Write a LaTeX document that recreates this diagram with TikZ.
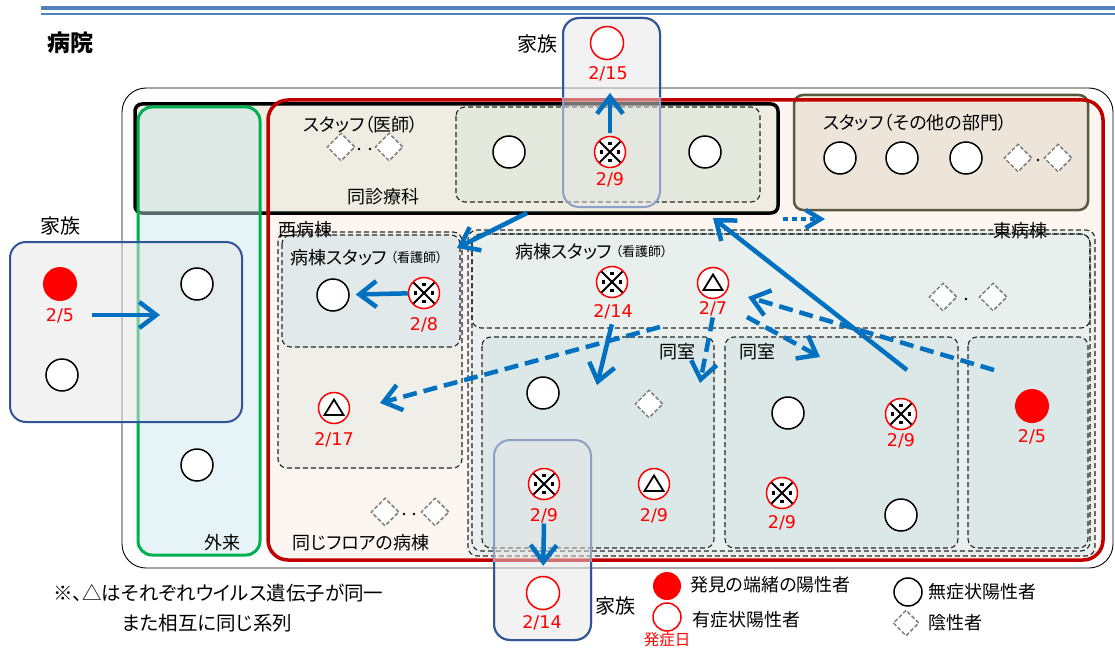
\documentclass[tikz,border=0pt]{standalone}
\usepackage{fontspec}
\setmainfont{Noto Sans CJK JP}[RawFeature=+palt]
\newfontfamily\numfont{DejaVu Sans}
\usetikzlibrary{shapes.geometric,arrows.meta}

\definecolor{titleblue}{RGB}{79,129,189}
\definecolor{arrblue}{RGB}{0,112,192}
\definecolor{famblue}{RGB}{47,85,151}
\definecolor{wardred}{RGB}{192,0,0}
\definecolor{gairai}{RGB}{0,176,80}
\definecolor{gairaifill}{RGB}{200,232,238}
\definecolor{wardfill}{RGB}{253,245,239}
\definecolor{clinicfill}{RGB}{239,237,225}
\definecolor{docfill}{RGB}{227,233,220}
\definecolor{otherfill}{RGB}{237,229,217}
\definecolor{otherline}{RGB}{89,89,64}
\definecolor{westfill}{RGB}{239,238,233}
\definecolor{weststafffill}{RGB}{225,233,234}
\definecolor{eastfill}{RGB}{232,239,236}
\definecolor{roomfill}{RGB}{220,231,232}

\tikzset{%
        asym/.style={
                circle, draw, fill=white, line width=1.5pt,
                minimum size=32pt, inner sep=0pt
            },
        index/.style={
                circle, fill=red, minimum size=34pt, inner sep=0pt
            },
        symp/.style={
                circle, draw=red, fill=white, line width=1.5pt,
                minimum size=33pt, inner sep=0pt
            },
        kome/.style={
                symp, minimum size=31pt,
                path picture={
                    \draw[black, line width=2pt, line cap=butt]
                        ([shift={(-12pt,12pt)}]path picture bounding box.center) -- ([shift={(12pt,-12pt)}]path picture bounding box.center)
                        ([shift={(12pt,12pt)}]path picture bounding box.center) -- ([shift={(-12pt,-12pt)}]path picture bounding box.center);
                    \foreach \dx/\dy in {0/8.5,0/-8.5,8.5/0,-8.5/0}
                        \fill[black] ([shift={(\dx pt,\dy pt)}]path picture bounding box.center)
                            ++(-1.8pt,-1.8pt) rectangle ++(3.6pt,3.6pt);
                }
            },
        tri/.style={
                symp, minimum size=31pt,
                path picture={
                    \draw[black, line width=1.8pt, line join=miter]
                        ([shift={(0pt,8.5pt)}]path picture bounding box.center)
                        -- ([shift={(-9.5pt,-7pt)}]path picture bounding box.center)
                        -- ([shift={(9.5pt,-7pt)}]path picture bounding box.center) -- cycle;
                }
            },
        neg/.style={
                diamond, draw=black!50, fill=white, line width=1.5pt,
                dash pattern=on 4pt off 2pt, minimum size=28pt, inner sep=0pt
            },
        date/.style={
                text=red, font=\numfont\fontsize{17.5}{17.5}\selectfont, inner sep=0pt
            },
        jtext/.style={
                font=\fontsize{18}{18}\selectfont, inner sep=0pt
            },
        smalltext/.style={
                font=\fontsize{13}{13}\selectfont, inner sep=0pt
            },
        ellip/.style={
                fill=black, circle, minimum size=2.6pt, inner sep=0pt
            },
        area/.style={
                draw=black!85, line width=1.1pt, dash pattern=on 5pt off 3pt,
                rounded corners=9pt
            },
        fambox/.style={
                fill=black!10, fill opacity=0.5, rounded corners=16pt, line width=2pt
            },
        arr/.style={
                draw=arrblue, line width=4.5pt,
                -{Straight Barb[length=17pt, width=26pt]}
            },
        dasharr/.style={
                arr, dash pattern=on 14pt off 7pt
            },
        dotarr/.style={
                arr, dash pattern=on 5pt off 4pt,
                -{Straight Barb[length=15pt, width=18pt]}
            }
    }

\begin{document}
\begin{tikzpicture}[x=1pt, y=-1pt]
    \useasboundingbox (0,0) rectangle (1115,650);

    % title:
        \draw[titleblue, line width=3.5pt] (41,8) -- (1115,8);
        \draw[titleblue, line width=1.2pt] (41,14) -- (1115,14);
        \node[font=\bfseries\fontsize{23}{23}\selectfont] (hosp) at (70,43) {病院};

    % hospital and its parts:
        \draw[line width=0.9pt, fill=white, rounded corners=24pt] (122,88) rectangle (1113,568);
        \fill[wardfill, rounded corners=20pt] (268,100) rectangle (1103,560);
        \draw[fill=clinicfill, line width=3.5pt, rounded corners=7pt] (135,104) rectangle (778,213);
        \draw[area, fill=docfill] (456,107) rectangle (760,202);
        \draw[draw=otherline, fill=otherfill, line width=2.5pt, rounded corners=9pt] (794,95) rectangle (1088,210);
        \draw[wardred, line width=3.5pt, rounded corners=20pt] (268,100) rectangle (1103,560);

        \draw[area, fill=westfill] (278,232) rectangle (462,468);
        \draw[area, fill=weststafffill] (282,235) rectangle (460,347);
        \draw[area, fill=eastfill] (468,230) rectangle (1095,556);
        \draw[area] (472,234) rectangle (1090,551);
        \draw[area] (472,234) rectangle (1090,328);
        \draw[area, fill=roomfill] (482,337) rectangle (714,548);
        \draw[area, fill=roomfill] (725,337) rectangle (958,548);
        \draw[area, fill=roomfill] (968,337) rectangle (1088,548);

        \draw[gairai, line width=3pt, fill=gairaifill, fill opacity=0.45, rounded corners=14pt]
            (138,107) rectangle (260,555);

    % families:
        \draw[fambox, draw=famblue] (10,242) rectangle (242,422);
        \draw[fambox, draw=famblue!55] (563,18) rectangle (660,207);
        \draw[fambox, draw=famblue!55] (494,440) rectangle (591,640);
        \begin{scope}
            \clip (500,0) rectangle (700,97);
            \draw[famblue, line width=2pt, rounded corners=16pt] (563,18) rectangle (660,207);
        \end{scope}
        \begin{scope}
            \clip (480,562) rectangle (620,650);
            \draw[famblue, line width=2pt, rounded corners=16pt] (494,440) rectangle (591,640);
        \end{scope}

    % texts:
        \node[jtext] (t-doc) at (361,125) {スタッフ（医師）};
        \node[jtext] (t-clinic) at (383,197) {同診療科};
        \node[jtext] (t-other) at (915,123) {スタッフ（その他の部門）};
        \node[jtext, anchor=west] (t-west) at (278,230) {西病棟};
        \node[jtext, anchor=west] (t-wstaff) at (290,258) {病棟スタッフ};
        \node[smalltext, anchor=west] (t-wnurse) at ([xshift=3pt]t-wstaff.east) {（看護師）};
        \node[jtext] (t-east) at (1020,231) {東病棟};
        \node[jtext, anchor=west] (t-estaff) at (515,252) {病棟スタッフ};
        \node[smalltext, anchor=west] (t-enurse) at ([xshift=3pt]t-estaff.east) {（看護師）};
        \node[jtext] (t-room1) at (677,352) {同室};
        \node[jtext] (t-room2) at (757,352) {同室};
        \node[jtext] (t-floor) at (361,543) {同じフロアの病棟};
        \node[jtext] (t-gairai) at (222,543) {外来};
        \node[jtext, font=\fontsize{20}{20}\selectfont] (t-fam1) at (60,226) {家族};
        \node[jtext, font=\fontsize{20}{20}\selectfont] (t-fam2) at (537,44) {家族};
        \node[jtext, font=\fontsize{20}{20}\selectfont] (t-fam3) at (615,606) {家族};

    % same department:
        \node[neg] (dr1) at (341,147) {};
        \node[neg] (dr2) at (389,147) {};
        \node[ellip] at (359,149) {};
        \node[ellip] at (370,149) {};
        \node[asym] (dc1) at (509,152) {};
        \node[kome] (dc2) at (610,152) {};
        \node[date] (ddc2) at (610,180) {2/9};
        \node[asym] (dc3) at (705,152) {};

    % other departments:
        \node[asym] (o1) at (840,158) {};
        \node[asym] (o2) at (902,158) {};
        \node[asym] (o3) at (966,158) {};
        \node[neg] (o4) at (1018,158) {};
        \node[neg] (o5) at (1058,158) {};
        \node[ellip] at (1038,160) {};

    % families:
        \node[symp] (ft) at (607,43) {};
        \node[date] (dft) at (608,74) {2/15};
        \node[index] (fl1) at (60,284) {};
        \node[date] (dfl1) at (60,316) {2/5};
        \node[asym] (fl2) at (62,375) {};
        \node[symp] (fb) at (543,593) {};
        \node[date] (dfb) at (542,623) {2/14};

    % outpatient:
        \node[asym] (g1) at (197,284) {};
        \node[asym] (g2) at (197,465) {};

    % west ward:
        \node[asym] (w1) at (333,295) {};
        \node[kome] (w2) at (424,293) {};
        \node[date] (dw2) at (424,325) {2/8};
        \node[tri] (w3) at (334,408) {};
        \node[date] (dw3) at (334,440) {2/17};
        \node[neg] (w4) at (385,512) {};
        \node[neg] (w5) at (435,512) {};
        \node[ellip] at (404,514) {};
        \node[ellip] at (414,514) {};

    % east ward staff:
        \node[kome] (e1) at (612,282) {};
        \node[date] (de1) at (613,312) {2/14};
        \node[tri] (e2) at (713,283) {};
        \node[date] (de2) at (713,309) {2/7};
        \node[neg] (e3) at (943,297) {};
        \node[neg] (e4) at (993,297) {};
        \node[ellip] at (966,299) {};

    % rooms:
        \node[asym] (r1a) at (543,393) {};
        \node[neg] (r1b) at (649,404) {};
        \node[kome] (r1c) at (544,484) {};
        \node[date] (dr1c) at (544,516) {2/9};
        \node[tri] (r1d) at (654,484) {};
        \node[date] (dr1d) at (654,516) {2/9};
        \node[asym] (r2a) at (788,413) {};
        \node[kome] (r2b) at (901,414) {};
        \node[date] (dr2b) at (901,441) {2/9};
        \node[kome] (r2c) at (782,493) {};
        \node[date] (dr2c) at (782,523) {2/9};
        \node[asym] (r2d) at (901,515) {};
        \node[index] (r3a) at (1032,406) {};
        \node[date] (dr3a) at (1032,437) {2/5};

    % arrows:
        \coordinate (top-in) at (610,93);
        \coordinate (cl-out) at (527,213);
        \coordinate (ws-in) at (457,248);
        \coordinate (dot-s) at (783,219);
        \coordinate (dot-t) at (825,219);
        \coordinate (r2-out) at (907,370);
        \coordinate (cl-in) at (713,218);
        \coordinate (r3-out) at (994,370);
        \coordinate (e2-in) at (748,297);
        \coordinate (e2-out) at (747,317);
        \coordinate (r2-in) at (820,357);
        \coordinate (r1-in) at (700,383);
        \coordinate (r1-in2) at (597,385);
        \coordinate (e-out) at (660,327);
        \coordinate (w3-in) at (380,403);
        \coordinate (fl-out) at (92,315);
        \coordinate (g-in) at (160,315);

        \draw[arr, shorten <=3pt] (dc2.north) -- (top-in);
        \draw[arr] (cl-out) -- (ws-in);
        \draw[dotarr] (dot-s) -- (dot-t);
        \draw[arr] (r2-out) -- (cl-in);
        \draw[dasharr] (r3-out) -- (e2-in);
        \draw[dasharr] (e2-out) -- (r2-in);
        \draw[dasharr, shorten <=1pt] (de2.south) -- (r1-in);
        \draw[arr, shorten <=5pt] (de1.south) -- (r1-in2);
        \draw[dasharr] (e-out) -- (w3-in);
        \draw[arr, shorten >=6pt] (w2) -- (w1);
        \draw[arr] (fl-out) -- (g-in);
        \draw[arr, shorten >=10pt] (dr1c.south) -- (fb.north);

    % notes and legend:
        \node[jtext, font=\fontsize{19.5}{19.5}\selectfont, anchor=west] (note1) at (53,593) {※、△はそれぞれウイルス遺伝子が同一};
        \node[jtext, font=\fontsize{19.5}{19.5}\selectfont, anchor=west] (note2) at (122,623) {また相互に同じ系列};
        \node[index, minimum size=28pt] (lg1) at (667,586) {};
        \node[jtext, anchor=west] (lt1) at (690,585) {発見の端緒の陽性者};
        \node[symp, minimum size=28pt] (lg2) at (667,617) {};
        \node[jtext, anchor=west] (lt2) at (692,620) {有症状陽性者};
        \node[jtext, text=red, font=\fontsize{15.5}{15.5}\selectfont] (lt3) at (667,640) {発症日};
        \node[asym, minimum size=28pt] (lg4) at (908,592) {};
        \node[jtext, anchor=west] (lt4) at (928,592) {無症状陽性者};
        \node[neg, minimum size=26pt] (lg5) at (906,623) {};
        \node[jtext, anchor=west] (lt5) at (928,623) {陰性者};
\end{tikzpicture}
\end{document}
